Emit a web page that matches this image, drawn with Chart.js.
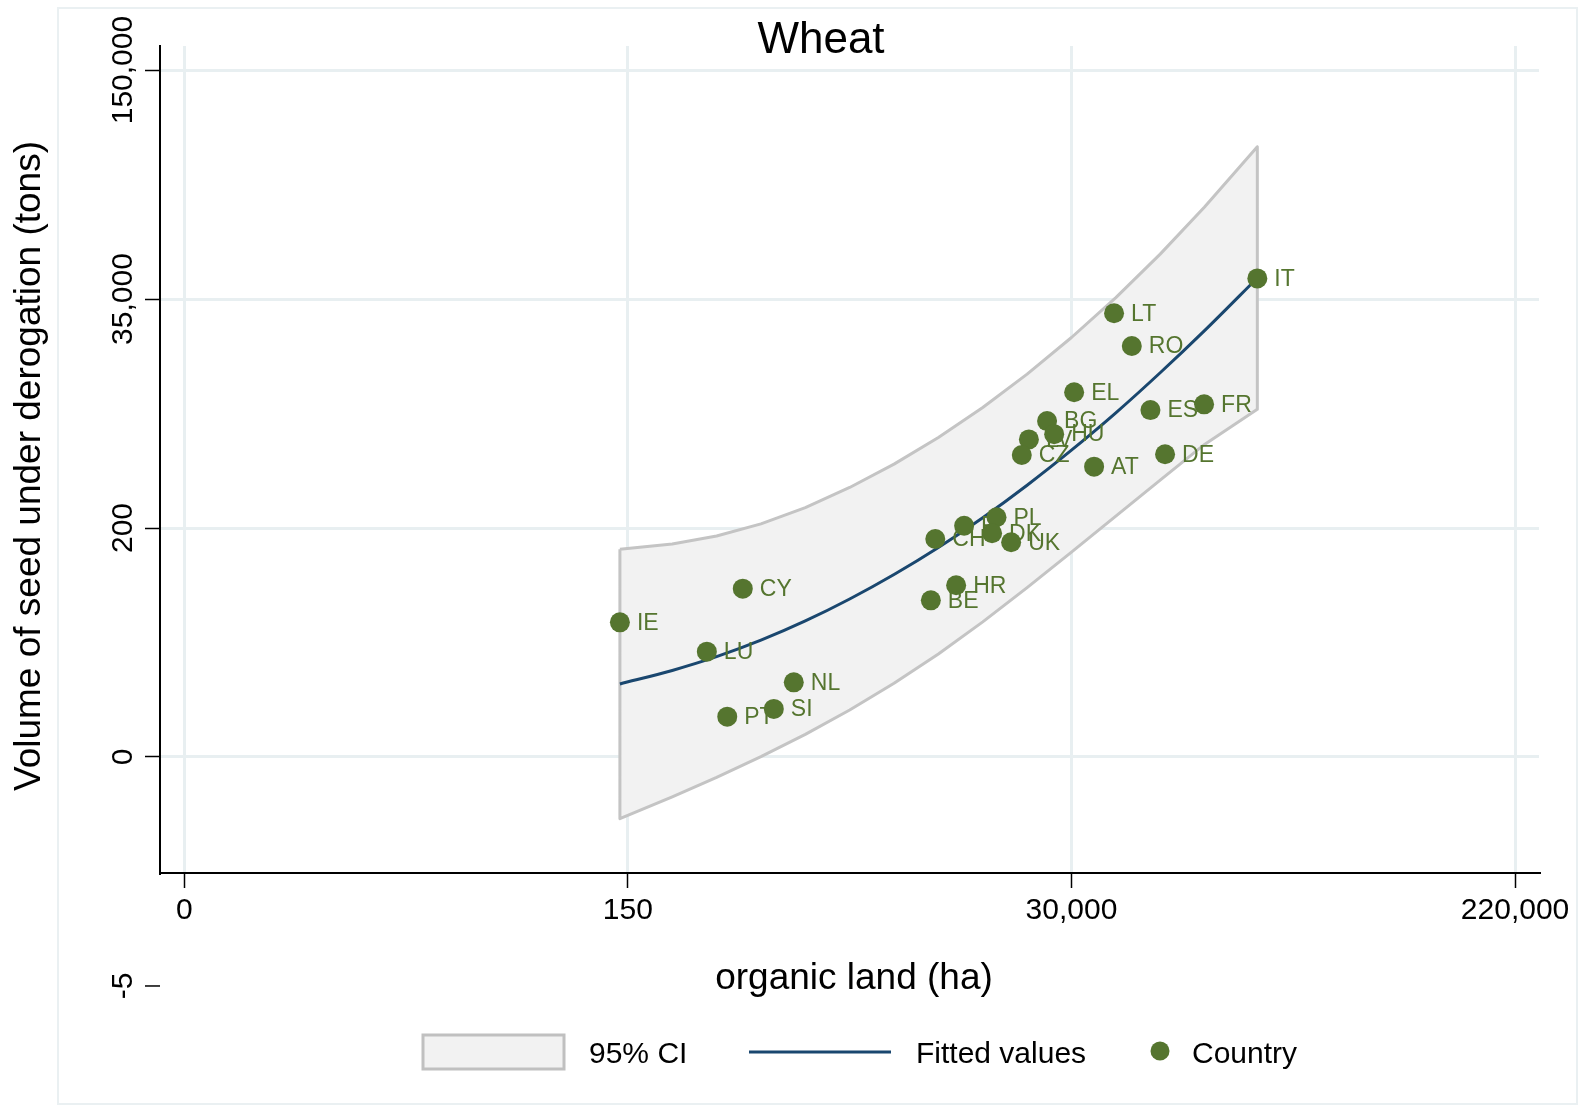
<!DOCTYPE html>
<html>
<head>
<meta charset="utf-8">
<title>Wheat</title>
<script src="https://cdn.jsdelivr.net/npm/chart.js@4.4.1/dist/chart.umd.min.js"></script>
<style>
  html, body { margin: 0; padding: 0; background: #fff; }
  #wrap { width: 1587px; height: 1108px; }
</style>
</head>
<body>
<div id="wrap"><canvas id="wheatChart" width="1587" height="1108"></canvas></div>
<script>
// axis positions are the chart's own label slots (equally spaced ticks)
const xTickPos = [0, 1, 2, 3];
const xTickLabels = ["0", "150", "30,000", "220,000"];
const yTickPos = [-1, 0, 1, 2, 3];
const yTickLabels = ["-5", "0", "200", "35,000", "150,000"];

const countries = ["IE", "CY", "LU", "NL", "SI", "PT", "BE", "HR", "CH", "FI", "PL", "DK", "UK",
  "IT", "LT", "RO", "EL", "ES", "FR", "BG", "HU", "LV", "CZ", "AT", "DE"];
const landPos = [0.982, 1.259, 1.178, 1.374, 1.329, 1.224, 1.683, 1.740, 1.693, 1.758, 1.831, 1.821, 1.864,
  2.419, 2.096, 2.136, 2.006, 2.178, 2.299, 1.945, 1.961, 1.904, 1.888, 2.051, 2.211];
const seedPos = [0.588, 0.735, 0.460, 0.326, 0.210, 0.176, 0.684, 0.750, 0.952, 1.010, 1.047, 0.977, 0.938,
  2.090, 1.938, 1.795, 1.593, 1.515, 1.540, 1.467, 1.410, 1.387, 1.319, 1.268, 1.322];

// fitted values and 95% CI
const fitX = [0.982, 1.1, 1.2, 1.3, 1.4, 1.5, 1.6, 1.7, 1.8, 1.9, 2.0, 2.1, 2.2, 2.3, 2.419];
const fitY = [0.319, 0.378, 0.438, 0.510, 0.594, 0.690, 0.797, 0.915, 1.045, 1.187, 1.340, 1.503, 1.678, 1.862, 2.092];
const ciUpper = [0.907, 0.930, 0.965, 1.018, 1.089, 1.177, 1.279, 1.395, 1.526, 1.672, 1.832, 2.006, 2.196, 2.402, 2.665];
const ciLower = [-0.269, -0.174, -0.089, 0.002, 0.099, 0.205, 0.322, 0.450, 0.590, 0.740, 0.895, 1.052, 1.209, 1.365, 1.519];

const FONT = '"Liberation Sans", Arial, Helvetica, sans-serif';
const GREEN = "#55752f";
const NAVY = "#1a476f";
const GRID = "#e8eff1";

Chart.defaults.font.family = FONT;

const pts = landPos.map((x, i) => ({ x: x, y: seedPos[i] }));
const fitPts = fitX.map((x, i) => ({ x: x, y: fitY[i] }));
// band outline: upper left->right, lower right->left, closed
const band = fitX.map((x, i) => ({ x: x, y: ciUpper[i] }));
for (let i = fitX.length - 1; i >= 0; i--) band.push({ x: fitX[i], y: ciLower[i] });
band.push({ x: fitX[0], y: ciUpper[0] });

const pointLabels = {
  id: "pointLabels",
  beforeDatasetDraw(chart, args) {
    if (args.index !== 0) return;
    const ctx = chart.ctx;
    const meta = chart.getDatasetMeta(0);
    ctx.save();
    ctx.fillStyle = GREEN;
    ctx.font = "23px " + FONT;
    ctx.textAlign = "left";
    ctx.textBaseline = "middle";
    meta.data.forEach((el, i) => {
      ctx.fillText(countries[i], el.x + 17, el.y + 1);
    });
    ctx.restore();
  }
};

const frame = {
  id: "frame",
  beforeDraw(chart) {
    const ctx = chart.ctx;
    ctx.save();
    ctx.strokeStyle = "#eaf0f2";
    ctx.lineWidth = 2;
    ctx.strokeRect(58, 8, 1519, 1096);
    ctx.restore();
  }
};

const extras = {
  id: "extras",
  afterDraw(chart) {
    const { ctx, chartArea, scales } = chart;
    const y = scales.y;
    ctx.save();
    ctx.fillStyle = "#000";
    ctx.strokeStyle = "#000";

    // y tick labels, rotated like the original
    ctx.font = "30px " + FONT;
    ctx.textAlign = "center";
    ctx.textBaseline = "alphabetic";
    yTickPos.forEach((v, i) => {
      const py = y.getPixelForValue(v);
      if (v < y.min) {
        ctx.lineWidth = 1.5;
        ctx.beginPath();
        ctx.moveTo(chartArea.left - 15, py);
        ctx.lineTo(chartArea.left, py);
        ctx.stroke();
      }
      ctx.save();
      ctx.translate(chartArea.left - 28, py);
      ctx.rotate(-Math.PI / 2);
      ctx.fillText(yTickLabels[i], 0, 0);
      ctx.restore();
    });

    // axis titles
    ctx.font = "37px " + FONT;
    ctx.save();
    ctx.translate(40, 466);
    ctx.rotate(-Math.PI / 2);
    ctx.fillText("Volume of seed under derogation (tons)", 0, 0);
    ctx.restore();
    ctx.fillText("organic land (ha)", 854, 989);

    // title
    ctx.font = "44px " + FONT;
    ctx.fillText("Wheat", 821, 53);

    // legend
    ctx.font = "30px " + FONT;
    ctx.textAlign = "left";
    ctx.fillStyle = "#f2f2f2";
    ctx.fillRect(423, 1035, 141, 34);
    ctx.strokeStyle = "#c0c0c0";
    ctx.lineWidth = 3;
    ctx.strokeRect(423, 1035, 141, 34);
    ctx.fillStyle = "#000";
    ctx.fillText("95% CI", 589, 1063);

    ctx.strokeStyle = NAVY;
    ctx.lineWidth = 3;
    ctx.beginPath();
    ctx.moveTo(749, 1052);
    ctx.lineTo(891, 1052);
    ctx.stroke();
    ctx.fillText("Fitted values", 916, 1063);

    ctx.fillStyle = GREEN;
    ctx.beginPath();
    ctx.arc(1160, 1051, 9.5, 0, Math.PI * 2);
    ctx.fill();
    ctx.fillStyle = "#000";
    ctx.fillText("Country", 1192, 1063);
    ctx.restore();
  }
};

new Chart(document.getElementById("wheatChart"), {
  type: "scatter",
  data: {
    datasets: [
      {
        label: "Country",
        data: pts,
        backgroundColor: GREEN,
        borderWidth: 0,
        pointRadius: 10,
        order: 0
      },
      {
        label: "Fitted values",
        data: fitPts,
        showLine: true,
        borderColor: NAVY,
        borderWidth: 3,
        pointRadius: 0,
        cubicInterpolationMode: "monotone",
        order: 1
      },
      {
        label: "95% CI",
        data: band,
        showLine: true,
        fill: "shape",
        backgroundColor: "#f2f2f2",
        borderColor: "#c4c4c4",
        borderWidth: 3,
        borderJoinStyle: "round",
        pointRadius: 0,
        tension: 0,
        order: 2
      }
    ]
  },
  options: {
    responsive: false,
    animation: false,
    events: [],
    layout: { padding: { left: 0, right: 48, top: 46, bottom: 0 } },
    plugins: {
      legend: { display: false },
      tooltip: { enabled: false }
    },
    scales: {
      x: {
        type: "linear",
        min: -0.0548,
        max: 3.054,
        afterBuildTicks: s => { s.ticks = xTickPos.map(v => ({ value: v })); },
        afterFit: s => { s.height = 235; },
        ticks: {
          autoSkip: false,
          maxRotation: 0,
          padding: 5,
          color: "#000",
          font: { size: 30 },
          callback: v => xTickLabels[xTickPos.indexOf(v)]
        },
        grid: { color: GRID, lineWidth: 3, tickColor: "#000", tickLength: 15, tickWidth: 1.5 },
        border: { color: "#000", width: 2 }
      },
      y: {
        type: "linear",
        min: -0.5066,
        max: 3.105,
        afterBuildTicks: s => { s.ticks = yTickPos.filter(v => v >= s.min).map(v => ({ value: v })); },
        afterFit: s => { s.width = 160; },
        ticks: {
          color: "rgba(0,0,0,0)",
          font: { size: 30 },
          callback: v => yTickLabels[yTickPos.indexOf(v)]
        },
        grid: { color: GRID, lineWidth: 3, tickColor: "#000", tickLength: 15, tickWidth: 1.5 },
        border: { color: "#000", width: 2 }
      }
    }
  },
  plugins: [frame, pointLabels, extras]
});
</script>
</body>
</html>
